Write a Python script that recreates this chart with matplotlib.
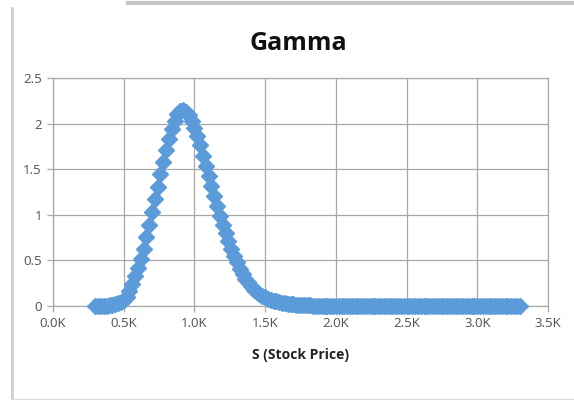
import matplotlib
matplotlib.use("Agg")
import matplotlib.pyplot as plt
from matplotlib.lines import Line2D
from matplotlib.ticker import FuncFormatter

# ---- data ----
stock_price = list(range(300, 3301, 20))
gamma = [
    0.00, 0.00, 0.00, 0.00, 0.005, 0.01, 0.015, 0.02, 0.03, 0.045,      # 300-480
    0.065, 0.10, 0.16, 0.24, 0.33, 0.42, 0.52, 0.63, 0.76, 0.89,        # 500-680
    1.03, 1.17, 1.31, 1.45, 1.58, 1.71, 1.83, 1.94, 2.03, 2.10,         # 700-880
    2.14, 2.15, 2.13, 2.09, 2.03, 1.95, 1.86, 1.76, 1.65, 1.54,         # 900-1080
    1.43, 1.32, 1.21, 1.10, 0.99, 0.89, 0.80, 0.71, 0.63, 0.55,         # 1100-1280
    0.48, 0.41, 0.35, 0.30, 0.26, 0.22, 0.18, 0.155, 0.13, 0.11,        # 1300-1480
    0.095, 0.08, 0.07, 0.06, 0.05, 0.04, 0.035, 0.03, 0.025, 0.02,      # 1500-1680
    0.017, 0.014, 0.012, 0.010, 0.008, 0.007, 0.006, 0.005, 0.004, 0.003,  # 1700-1880
    0.003, 0.002, 0.002, 0.002, 0.001, 0.001, 0.001, 0.001, 0.001, 0.001,  # 1900-2080
    0.0, 0.0, 0.0, 0.0, 0.0, 0.0, 0.0, 0.0, 0.0, 0.0,                    # 2100-2280
    0.0, 0.0, 0.0, 0.0, 0.0, 0.0, 0.0, 0.0, 0.0, 0.0,                    # 2300-2480
    0.0, 0.0, 0.0, 0.0, 0.0, 0.0, 0.0, 0.0, 0.0, 0.0,                    # 2500-2680
    0.0, 0.0, 0.0, 0.0, 0.0, 0.0, 0.0, 0.0, 0.0, 0.0,                    # 2700-2880
    0.0, 0.0, 0.0, 0.0, 0.0, 0.0, 0.0, 0.0, 0.0, 0.0,                    # 2900-3080
    0.0, 0.0, 0.0, 0.0, 0.0, 0.0, 0.0, 0.0, 0.0, 0.0,                    # 3100-3280
    0.0,                                                                  # 3300
]
x_ticks = [0, 500, 1000, 1500, 2000, 2500, 3000, 3500]
y_ticks = [0, 0.5, 1, 1.5, 2, 2.5]
y_tick_labels = ["0", "0.5", "1", "1.5", "2", "2.5"]
title = "Gamma"
x_label = "S (Stock Price)"

plt.rcParams['font.family'] = ['Open Sans', 'DejaVu Sans']

fig = plt.figure(figsize=(5.74, 4.00), dpi=100)
fig.patch.set_facecolor("white")
ax = fig.add_axes([53 / 574, 1 - 306 / 400, (548 - 53) / 574, (306 - 78) / 400])

ax.plot(stock_price, gamma, linestyle="none", marker="D", markersize=8,
        color="#5b9bd9", markeredgecolor="#5b9bd9", zorder=3, clip_on=False)

ax.set_xlim(0, 3500)
ax.set_ylim(0, 2.5)
ax.set_xticks(x_ticks)
ax.set_yticks(y_ticks)
ax.set_yticklabels(y_tick_labels)
ax.xaxis.set_major_formatter(FuncFormatter(lambda v, p: f"{v/1000:.1f}K"))

ax.grid(True, color="#a8a8a8", linewidth=0.9)
ax.set_axisbelow(True)
for s in ax.spines.values():
    s.set_color("#a8a8a8")
    s.set_linewidth(0.9)
ax.tick_params(axis="both", colors="#a8a8a8", labelcolor="#505050",
               labelsize=9.5, length=4, width=0.9, pad=4)

fig.text(298 / 574, 1 - 43 / 400, title, ha="center", va="center",
         fontsize=18, fontweight="bold", color="#111111")
fig.text(300 / 574, 1 - 355 / 400, x_label, ha="center", va="center",
         fontsize=10, fontweight="bold", color="#222222")

# outer frame fragments of the screenshot
fig.add_artist(Line2D([12 / 574, 12 / 574], [0, 1 - 8 / 400],
                      transform=fig.transFigure, color="#cfcfcf", linewidth=2))
fig.add_artist(Line2D([128 / 574, 1.0], [1 - 3 / 400, 1 - 3 / 400],
                      transform=fig.transFigure, color="#c4c4c4", linewidth=3))
fig.add_artist(Line2D([12 / 574, 1.0], [1 - 399 / 400, 1 - 399 / 400],
                      transform=fig.transFigure, color="#dddddd", linewidth=1))

fig.savefig("out.png", dpi=100, facecolor="white")
